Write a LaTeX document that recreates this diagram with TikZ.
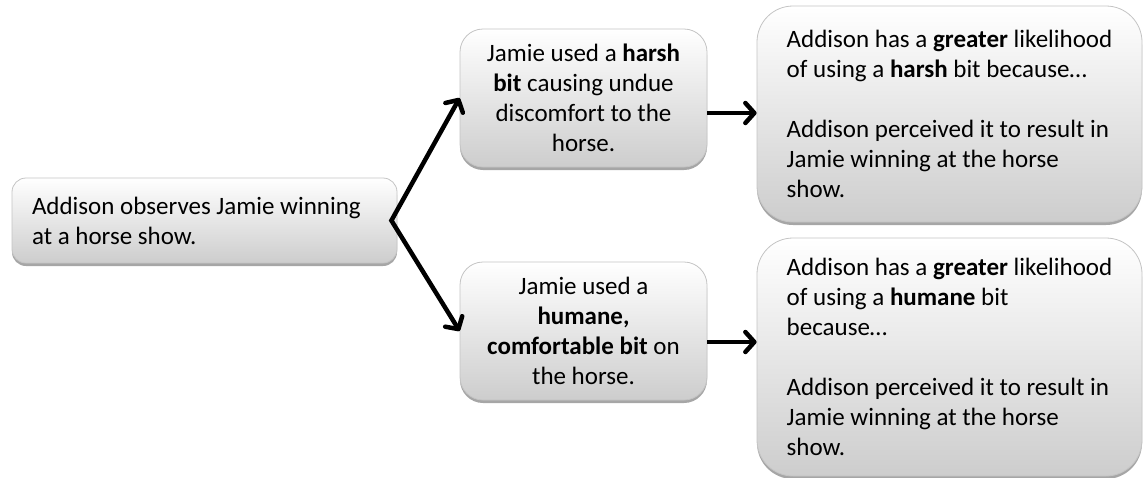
\documentclass[tikz,border=0pt]{standalone}
\usepackage{fontspec}
\setmainfont{Carlito}
\definecolor{bxtop}{RGB}{255,255,255}
\definecolor{bxbottom}{RGB}{205,205,205}
\definecolor{bxedge}{RGB}{196,196,196}
\usetikzlibrary{arrows.meta,positioning,shadows}

\begin{document}
\begin{tikzpicture}[x=1pt,y=-1pt,font=\fontsize{25}{30}\selectfont,
  card/.style={draw=bxedge,line width=0.8pt,top color=bxtop,bottom color=bxbottom,
    drop shadow={shadow xshift=0pt,shadow yshift=-3pt,opacity=0.35,fill=black},
    inner sep=0pt},
  flow/.style={line width=4.5pt,line join=miter,-{Straight Barb[length=9pt,width=20pt,round]}},
  fork/.style={line width=4.5pt,line join=miter,{Straight Barb[length=9pt,width=20pt,round]}-{Straight Barb[length=9pt,width=20pt,round]}}]
  \useasboundingbox (0,0) rectangle (1143,477);
  % left: what Addison sees
  \node[card,rounded corners=14pt,minimum width=385pt,minimum height=85pt,
    text width=345pt,align=flush left] (observe) at (204.5,220.5)
    {Addison observes Jamie winning\\at a horse show.};
  % middle: the two cases
  \node[card,rounded corners=23pt,minimum width=247pt,minimum height=138pt,
    align=center] (harsh) at (583.5,98)
    {Jamie used a \textbf{harsh}\\\textbf{bit} causing undue\\discomfort to the\\horse.};
  \node[card,rounded corners=23pt,minimum width=247pt,minimum height=138pt,
    align=center] (humane) at (583.5,331)
    {Jamie used a\\\textbf{humane,}\\\textbf{comfortable bit} on\\the horse.};
  % right: the outcomes
  \node[card,rounded corners=36pt,minimum width=385pt,minimum height=216pt,
    align=left] (harshwhy) at (949.5,114)
    {Addison has a \textbf{greater} likelihood\\of using a \textbf{harsh} bit because…\\[30pt]%
     Addison perceived it to result in\\Jamie winning at the horse\\show.};
  \node[card,rounded corners=36pt,minimum width=385pt,minimum height=238pt,
    align=left] (humanewhy) at (949.5,357)
    {Addison has a \textbf{greater} likelihood\\of using a \textbf{humane} bit\\because…\\[30pt]%
     Addison perceived it to result in\\Jamie winning at the horse\\show.};
  % connectors
  \draw[fork] (harsh.west) -- ([xshift=-6pt]observe.east) -- (humane.west);
  \draw[flow] ([yshift=-15pt]harsh.east) -- ([yshift=-15pt]harsh.east -| harshwhy.west);
  \draw[flow] ([yshift=-11pt]humane.east) -- ([yshift=-11pt]humane.east -| humanewhy.west);
\end{tikzpicture}
\end{document}
